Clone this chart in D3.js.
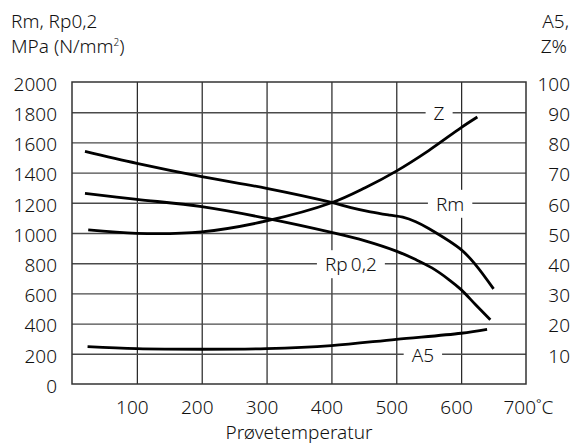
<!DOCTYPE html>
<html>
<head>
<meta charset="utf-8">
<script src="https://cdn.jsdelivr.net/npm/d3@7"></script>
<style>
  body { margin: 0; background: #fff; }
  text { font-family: 'Noto Sans', sans-serif; font-weight: 300; fill: #111; }
</style>
</head>
<body>
<script>
/* ===== data ===== */

var xTicks = [100, 200, 300, 400, 500, 600, 700];
var yTicksLeft = [0, 200, 400, 600, 800, 1000, 1200, 1400, 1600, 1800, 2000];
var yTicksRight = [10, 20, 30, 40, 50, 60, 70, 80, 90, 100];

// Rm, MPa
var tempsRm = [20, 100, 200, 300, 400, 430, 460, 490, 510, 530, 550, 600, 622, 650];
var valuesRm = [1540, 1461, 1373, 1296, 1203, 1168, 1140, 1118, 1105, 1075, 1030, 890, 791, 630];

// Rp 0,2, MPa
var tempsRp = [20, 100, 200, 300, 400, 452, 500, 530, 555, 581, 600, 622, 645];
var valuesRp = [1262, 1223, 1174, 1097, 1004, 948, 880, 824, 769, 692, 625, 526, 425];

// Z, %
var tempsZ = [25, 100, 200, 300, 400, 452, 500, 550, 600, 625];
var valuesZ = [51, 49.9, 50.4, 54, 60, 65, 70.5, 77.3, 84.9, 88.4];

// A5, %
var tempsA5 = [24, 100, 200, 300, 400, 500, 600, 640];
var valuesA5 = [12.4, 11.7, 11.5, 11.7, 12.7, 14.8, 16.8, 18.1];

// curve labels: text, temperature, MPa level
var curveLabels = [
  { text: 'Z', t: 566, v: 1800 },
  { text: 'Rm', t: 583, v: 1200 },
  { text: 'Rp\u20090,2', t: 430, v: 800 },
  { text: 'A5', t: 541, v: 200 }
];

buildPlot();

/* ===== BUILD PLOT FUNCTION ===== */

function buildPlot() {
  var w = 573;
  var h = 445;
  var left = 72, right = 526, top = 82, bottom = 384;
  var fontSize = 19;

  var svgFrame = d3.select('body')
    .append('svg')
    .attr('width', w)
    .attr('height', h);

  /* ===== scales ===== */

  var xScale = d3.scaleLinear().domain([0, 700]).range([left, right]);
  var yScale = d3.scaleLinear().domain([0, 2000]).range([bottom, top]);
  var yScaleRight = d3.scaleLinear().domain([0, 100]).range([bottom, top]);

  /* ===== grid ===== */

  var xGrid = d3.axisBottom(xScale)
    .tickValues([100, 200, 300, 400, 500, 600])
    .tickSize(-(bottom - top))
    .tickFormat('');

  svgFrame.append('g')
    .attr('class', 'x_grid')
    .attr('transform', 'translate(0,' + bottom + ')')
    .call(xGrid)
    .call(function(g) { g.select('.domain').remove(); })
    .selectAll('line')
    .attr('stroke', '#222')
    .attr('stroke-width', 1.2);

  var yGrid = d3.axisLeft(yScale)
    .tickValues([200, 400, 600, 800, 1000, 1200, 1400, 1600, 1800])
    .tickSize(-(right - left))
    .tickFormat('');

  svgFrame.append('g')
    .attr('class', 'y_grid')
    .attr('transform', 'translate(' + left + ',0)')
    .call(yGrid)
    .call(function(g) { g.select('.domain').remove(); })
    .selectAll('line')
    .attr('stroke', '#4a4a4a')
    .attr('stroke-width', 1.4);

  svgFrame.append('rect')
    .attr('x', left)
    .attr('y', top)
    .attr('width', right - left)
    .attr('height', bottom - top)
    .attr('fill', 'none')
    .attr('stroke', '#333')
    .attr('stroke-width', 1.5);

  /* ===== label boxes (hide grid under labels) ===== */

  var labelGroups = svgFrame.selectAll('.curveLabel')
    .data(curveLabels)
    .enter()
    .append('g')
    .attr('class', 'curveLabel')
    .attr('transform', function(d) {
      return 'translate(' + xScale(d.t) + ',' + (yScale(d.v) + 1) + ')';
    });

  labelGroups.append('text')
    .attr('text-anchor', 'middle')
    .attr('dy', '0.36em')
    .style('font-size', fontSize + 'px')
    .text(function(d) { return d.text; });

  labelGroups.each(function() {
    var g = d3.select(this);
    var bb = g.select('text').node().getBBox();
    g.insert('rect', 'text')
      .attr('x', bb.x - 8)
      .attr('y', -14)
      .attr('width', bb.width + 16)
      .attr('height', 28)
      .attr('fill', '#fff');
  });

  /* ===== curves ===== */

  var lineMPa = d3.line()
    .x(function(d) { return xScale(d[0]); })
    .y(function(d) { return yScale(d[1]); })
    .curve(d3.curveCatmullRom.alpha(0.5));

  var linePct = d3.line()
    .x(function(d) { return xScale(d[0]); })
    .y(function(d) { return yScaleRight(d[1]); })
    .curve(d3.curveCatmullRom.alpha(0.5));

  var curves = [
    { line: lineMPa, pts: d3.zip(tempsRm, valuesRm) },
    { line: lineMPa, pts: d3.zip(tempsRp, valuesRp) },
    { line: linePct, pts: d3.zip(tempsZ, valuesZ) },
    { line: linePct, pts: d3.zip(tempsA5, valuesA5) }
  ];

  var curveLayer = svgFrame.insert('g', '.curveLabel');

  curveLayer.selectAll('path')
    .data(curves)
    .enter()
    .append('path')
    .attr('d', function(d) { return d.line(d.pts); })
    .attr('fill', 'none')
    .attr('stroke', '#000')
    .attr('stroke-width', 2.8);

  // label text and its box stay above the grid, curves go over the boxes
  curveLayer.raise();
  labelGroups.selectAll('text').each(function() {
    var t = this;
    svgFrame.node().appendChild(t.parentNode.cloneNode(false)).appendChild(t);
  });

  /* ===== axes ===== */

  var xAxis = d3.axisBottom(xScale)
    .tickValues(xTicks)
    .tickSize(0)
    .tickPadding(17)
    .tickFormat(function(d) { return d === 700 ? '700\u02DAC' : d; });

  var xAxisG = svgFrame.append('g')
    .attr('class', 'x_axis')
    .attr('transform', 'translate(0,' + bottom + ')')
    .call(xAxis);
  xAxisG.select('.domain').remove();
  xAxisG.selectAll('text')
    .style('font-size', fontSize + 'px')
    .style('font-family', "'Noto Sans', sans-serif")
    .attr('fill', '#111')
    .attr('x', function(d) { return d === 700 ? -23 : -5; })
    .attr('text-anchor', function(d) { return d === 700 ? 'start' : 'middle'; });

  var yAxis = d3.axisLeft(yScale)
    .tickValues(yTicksLeft)
    .tickSize(0)
    .tickPadding(15)
    .tickFormat(d3.format('d'));

  var yAxisG = svgFrame.append('g')
    .attr('class', 'y_axis')
    .attr('transform', 'translate(' + left + ',0)')
    .call(yAxis);
  yAxisG.select('.domain').remove();
  yAxisG.selectAll('text')
    .style('font-size', fontSize + 'px')
    .style('font-family', "'Noto Sans', sans-serif")
    .attr('fill', '#111')
    .attr('dy', '0.44em');

  var yAxisRight = d3.axisRight(yScaleRight)
    .tickValues(yTicksRight)
    .tickSize(0)
    .tickPadding(44)
    .tickFormat(d3.format('d'));

  var yAxisRightG = svgFrame.append('g')
    .attr('class', 'y_axis_right')
    .attr('transform', 'translate(' + right + ',0)')
    .call(yAxisRight);
  yAxisRightG.select('.domain').remove();
  yAxisRightG.selectAll('text')
    .style('font-size', fontSize + 'px')
    .style('font-family', "'Noto Sans', sans-serif")
    .attr('fill', '#111')
    .attr('text-anchor', 'end')
    .attr('dy', '0.44em');

  /* ===== titles ===== */

  svgFrame.append('text')
    .attr('x', 11)
    .attr('y', 28)
    .style('font-size', fontSize + 'px')
    .text('Rm, Rp0,2');

  var unit = svgFrame.append('text')
    .attr('x', 11)
    .attr('y', 53)
    .style('font-size', fontSize + 'px')
    .text('MPa (N/mm');
  unit.append('tspan')
    .attr('dy', -7)
    .style('font-size', '10px')
    .text('2');
  unit.append('tspan')
    .attr('dy', 7)
    .text(')');

  svgFrame.append('text')
    .attr('x', 569)
    .attr('y', 28)
    .attr('text-anchor', 'end')
    .style('font-size', fontSize + 'px')
    .text('A5,');

  svgFrame.append('text')
    .attr('x', 567)
    .attr('y', 53)
    .attr('text-anchor', 'end')
    .style('font-size', fontSize + 'px')
    .text('Z%');

  svgFrame.append('text')
    .attr('x', 299)
    .attr('y', 439)
    .attr('text-anchor', 'middle')
    .style('font-size', fontSize + 'px')
    .text('Prøvetemperatur');
}
</script>
</body>
</html>
